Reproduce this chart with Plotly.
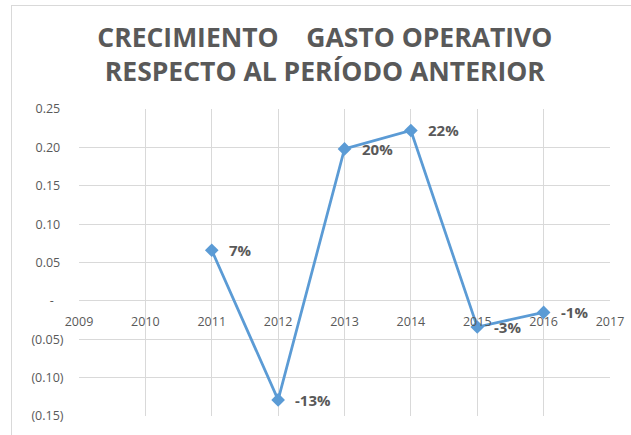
import plotly.graph_objects as go

years = [2011, 2012, 2013, 2014, 2015, 2016]
growth = [0.066, -0.129, 0.198, 0.222, -0.034, -0.015]
labels = ["7%", "-13%", "20%", "22%", "-3%", "-1%"]

x_ticks = [2009, 2010, 2011, 2012, 2013, 2014, 2015, 2016, 2017]
y_ticks = [0.25, 0.20, 0.15, 0.10, 0.05, 0.0, -0.05, -0.10, -0.15]
y_tick_text = ["0.25\u00a0", "0.20\u00a0", "0.15\u00a0", "0.10\u00a0", "0.05\u00a0",
               "-\u00a0\u00a0\u00a0", "(0.05)", "(0.10)", "(0.15)"]

title_text = ("\u00a0CRECIMIENTO\u00a0\u00a0\u00a0 GASTO OPERATIVO"
              "<br>RESPECTO AL PERÍODO ANTERIOR")

GRID = "#d9d9d9"
TXT = "#595959"
LINE = "#5B9BD5"

W, H = 631, 435
L, R, T, B = 78.5, 21, 109.3, 18.5

fig = go.Figure()
fig.add_trace(go.Scatter(
    x=years, y=growth, mode="lines+markers",
    line=dict(color=LINE, width=2.75),
    marker=dict(symbol="diamond", size=10.5, color=LINE),
    hoverinfo="skip", showlegend=False,
))

for xv, yv, t in zip(years, growth, labels):
    fig.add_annotation(
        x=xv, y=yv, text=t, showarrow=False,
        xanchor="left", yanchor="middle", xshift=15,
        font=dict(family="Open Sans", size=15, color=TXT, weight="bold"),
    )

y0, y1 = -0.15, 0.25
zero_pos = (0 - y0) / (y1 - y0)

fig.update_layout(
    width=W, height=H,
    margin=dict(l=L, r=R, t=T, b=B, autoexpand=False),
    paper_bgcolor="white", plot_bgcolor="white",
    title=dict(
        text=title_text, x=0.5148, xanchor="center", y=0.892, yanchor="top",
        font=dict(family="Open Sans", size=26.5, color=TXT, weight="bold"),
        automargin=False,
    ),
    xaxis=dict(
        range=[2009, 2017], tickvals=x_ticks, ticktext=[str(v) for v in x_ticks],
        showgrid=True, gridcolor=GRID, gridwidth=1, zeroline=False, showline=False,
        anchor="free", position=zero_pos, automargin=False,
        ticks="outside", ticklen=9, tickcolor="rgba(0,0,0,0)",
        tickfont=dict(family="Open Sans", size=12.5, color=TXT),
    ),
    yaxis=dict(
        range=[y0, y1], tickvals=y_ticks, ticktext=y_tick_text, automargin=False,
        showgrid=True, gridcolor=GRID, gridwidth=1, zeroline=False, showline=False,
        ticks="outside", ticklen=12, tickcolor="rgba(0,0,0,0)",
        tickfont=dict(family="Open Sans", size=12.5, color=TXT),
    ),
)

frame_js = (
    "document.body.style.margin='0';document.body.style.overflow='hidden';"
    "var f=document.createElement('div');"
    "f.style.cssText='position:absolute;left:11px;top:5px;width:800px;height:800px;"
    "border-left:1.5px solid #d9d9d9;border-top:1.5px solid #d9d9d9;"
    "pointer-events:none;box-sizing:border-box;z-index:10;';"
    "document.body.appendChild(f);"
)

fig.write_html(
    "out.html",
    config={"displayModeBar": False},
    post_script=frame_js,
)
